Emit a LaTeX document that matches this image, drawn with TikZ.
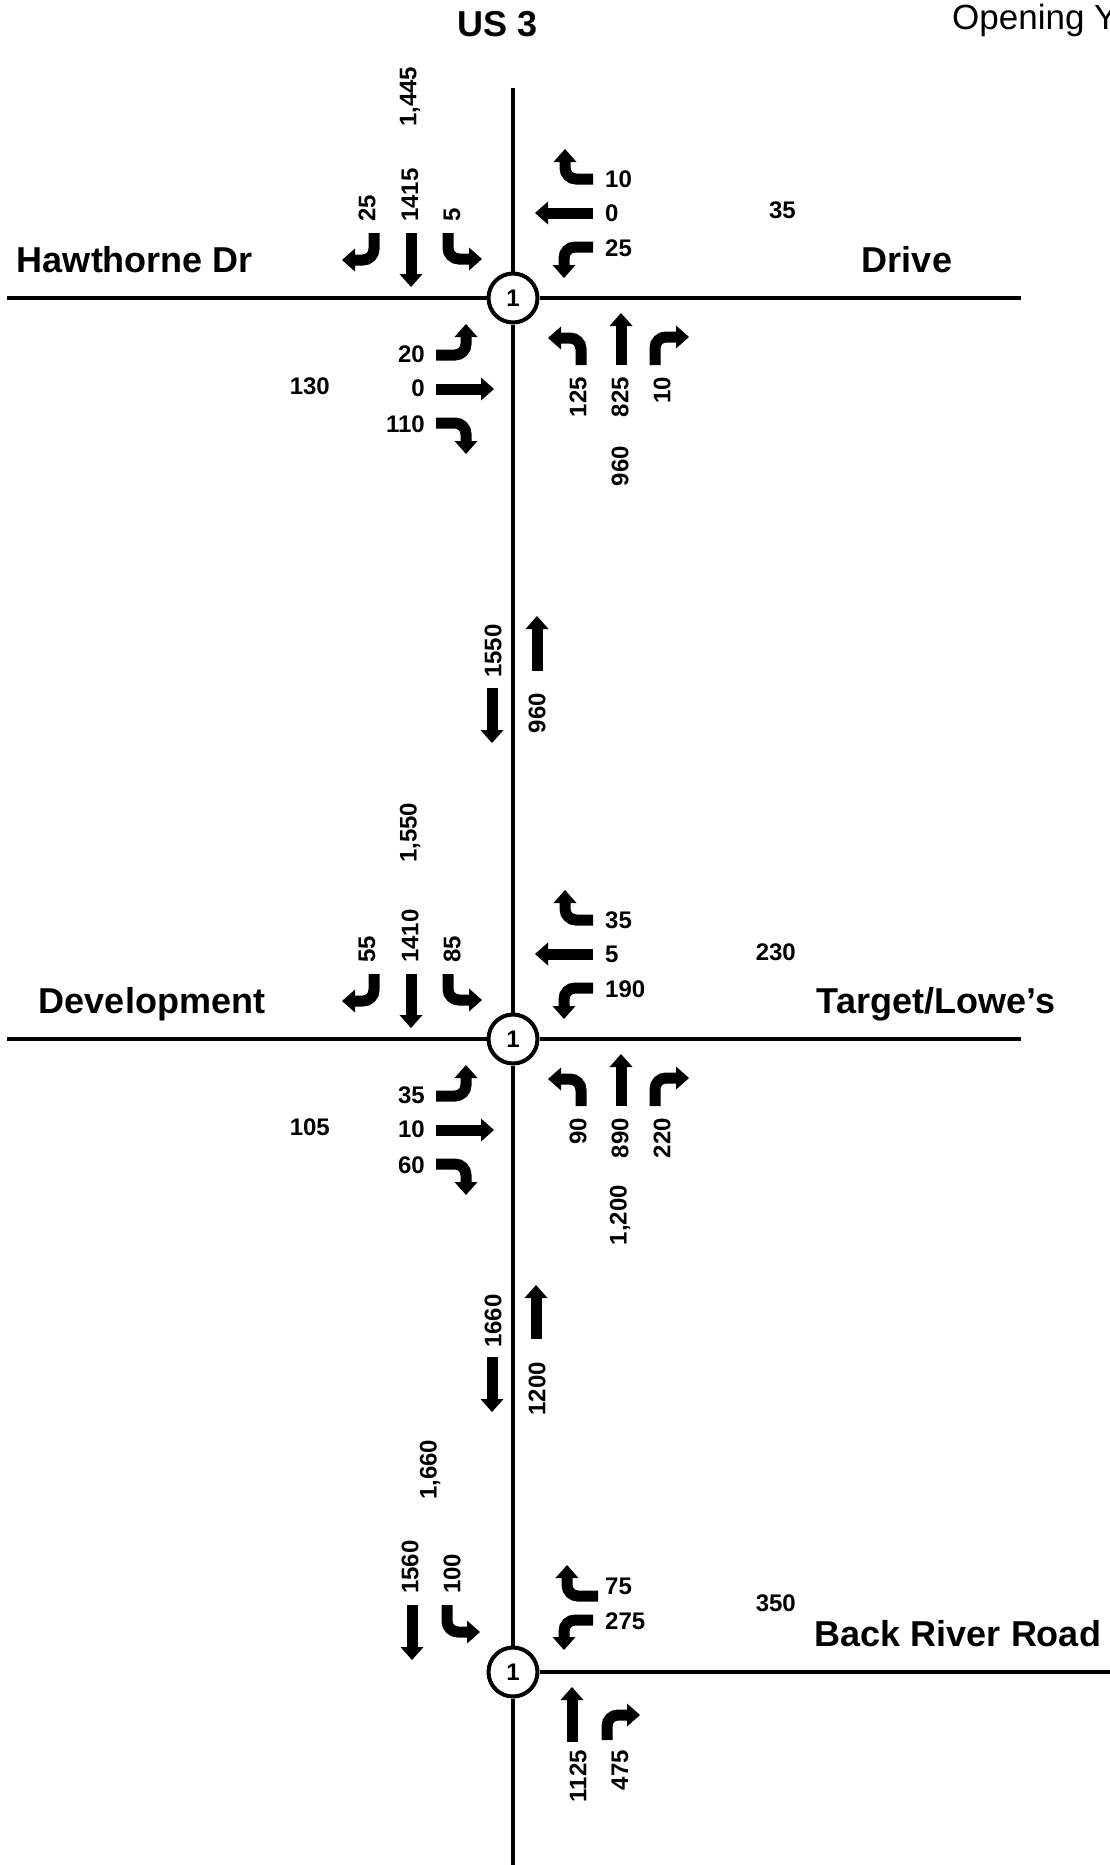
\documentclass[tikz,border=0pt]{standalone}
\usepackage{fontspec}
\setmainfont{Liberation Sans}
\usetikzlibrary{arrows.meta}
\tikzset{
 road/.style={line width=4.5pt},
 mv/.style={line width=11pt, rounded corners=11pt, -{Triangle[width=23pt,length=13pt,line width=0pt]}},
 num/.style={font=\fontsize{24}{24}\selectfont\bfseries, inner sep=0pt},
 vup/.style={num, rotate=90, anchor=west},
 vdn/.style={num, rotate=90, anchor=east},
 numr/.style={num, anchor=east},
 numl/.style={num, anchor=west},
 rname/.style={font=\fontsize{36}{36}\selectfont\bfseries, inner sep=0pt, anchor=base},
 sig/.style={circle, draw, line width=4pt, fill=white, minimum size=49pt, inner sep=0pt, font=\fontsize{24}{24}\selectfont\bfseries},
}
\begin{document}
\begin{tikzpicture}[x=1pt,y=-1pt]
\path[use as bounding box] (0,0) rectangle (1110,1865);
\clip (0,0) rectangle (1110,1865);
% signals
\node[sig] (c1) at (513,298) {1};
\node[sig] (c2) at (513,1039) {1};
\node[sig] (c3) at (513,1672) {1};
\coordinate (vtop) at (513,88);
\coordinate (vbot) at (513,1870);
\coordinate (h1w) at (7,298);
\coordinate (h1e) at (1021,298);
\coordinate (h2w) at (7,1039);
\coordinate (h2e) at (1021,1039);
\coordinate (h3e) at (1115,1672);
\draw[road] (vtop) -- (c1);
\draw[road] (c1) -- (c2);
\draw[road] (c2) -- (c3);
\draw[road] (c3) -- (vbot);
\draw[road] (h1w) -- (c1);
\draw[road] (c1) -- (h1e);
\draw[road] (h2w) -- (c2);
\draw[road] (c2) -- (h2e);
\draw[road] (c3) -- (h3e);
% titles and road names
\node[font=\fontsize{35}{35}\selectfont, inner sep=0pt, anchor=base west] (oy) at (952,30) {Opening Y};
\node[rname] (us3) at (498,37) {US 3};
\node[rname] (hw) at (135,272) {Hawthorne Dr};
\node[rname] (dr) at (907,272) {Drive};
\node[rname] (dev) at (152,1013) {Development};
\node[rname] (tl) at (936,1013) {Target/Lowe\symbol{39}s};
\node[rname] (brr) at (958,1646) {Back River Road};
% ---------------- intersection 1
\begin{scope}[shift={(513,298)}]
\node[vup] (a1stot) at (-103,-171) {1,445};
\node[vup] (a1sr) at (-146,-76) {25};
\node[vup] (a1st) at (-103,-76) {1415};
\node[vup] (a1sl) at (-61,-76) {5};
\draw[mv] (-139,-65) |- (-171,-38);
\draw[mv] (-102,-65) -- (-102,-11);
\draw[mv] (-65,-65) |- (-31,-39);
\draw[mv] (80,-119) -| (52,-149);
\draw[mv] (80,-85) -- (22,-85);
\draw[mv] (80,-51) -| (51,-20);
\node[numl] (a1wr) at (92,-119) {10};
\node[numl] (a1wt) at (92,-85) {0};
\node[numl] (a1wl) at (92,-50) {25};
\node[numr] (a1wtot) at (283,-88) {35};
\draw[mv] (-77,57) -| (-47,26);
\draw[mv] (-77,91) -- (-19,91);
\draw[mv] (-77,125) -| (-47,156);
\node[numr] (a1el) at (-88,56) {20};
\node[numr] (a1et) at (-88,90) {0};
\node[numr] (a1er) at (-88,126) {110};
\node[numr] (a1etot) at (-183,88) {130};
\draw[mv] (68,67) |- (35,40);
\draw[mv] (108,67) -- (108,15);
\draw[mv] (142,67) |- (176,39);
\node[vdn] (a1nl) at (65,79) {125};
\node[vdn] (a1nt) at (107,79) {825};
\node[vdn] (a1nr) at (149,79) {10};
\node[vdn] (a1ntot) at (107,148) {960};
\end{scope}
% corridor 1
\node[vup] (k1s) at (493,678) {1550};
\draw[mv] (492,688) -- (492,743);
\draw[mv] (537,671) -- (537,616);
\node[vdn] (k1n) at (537,693) {960};
% ---------------- intersection 2
\begin{scope}[shift={(513,1039)}]
\node[vup] (a2stot) at (-103,-176) {1,550};
\node[vup] (a2sr) at (-146,-76) {55};
\node[vup] (a2st) at (-103,-76) {1410};
\node[vup] (a2sl) at (-61,-76) {85};
\draw[mv] (-139,-65) |- (-171,-38);
\draw[mv] (-102,-65) -- (-102,-11);
\draw[mv] (-65,-65) |- (-31,-39);
\draw[mv] (80,-119) -| (52,-149);
\draw[mv] (80,-85) -- (22,-85);
\draw[mv] (80,-51) -| (51,-20);
\node[numl] (a2wr) at (92,-119) {35};
\node[numl] (a2wt) at (92,-85) {5};
\node[numl] (a2wl) at (92,-50) {190};
\node[numr] (a2wtot) at (283,-87) {230};
\draw[mv] (-77,57) -| (-47,26);
\draw[mv] (-77,91) -- (-19,91);
\draw[mv] (-77,125) -| (-47,156);
\node[numr] (a2el) at (-88,56) {35};
\node[numr] (a2et) at (-88,90) {10};
\node[numr] (a2er) at (-88,126) {60};
\node[numr] (a2etot) at (-183,88) {105};
\draw[mv] (68,67) |- (35,40);
\draw[mv] (108,67) -- (108,15);
\draw[mv] (142,67) |- (176,39);
\node[vdn] (a2nl) at (65,79) {90};
\node[vdn] (a2nt) at (107,79) {890};
\node[vdn] (a2nr) at (149,79) {220};
\node[vdn] (a2ntot) at (107,146) {1,200};
\end{scope}
% corridor 2
\node[vup] (k2s) at (493,1348) {1660};
\draw[mv] (492,1357) -- (492,1412);
\draw[mv] (536,1339) -- (536,1285);
\node[vdn] (k2n) at (537,1362) {1200};
% ---------------- intersection 3
\begin{scope}[shift={(513,1672)}]
\node[vup] (a3stot) at (-83,-172) {1,660};
\node[vup] (a3st) at (-103,-78) {1560};
\node[vup] (a3sl) at (-61,-78) {100};
\draw[mv] (-101,-67) -- (-101,-12);
\draw[mv] (-66,-67) |- (-33,-40);
\draw[mv] (85,-76) -| (54,-107);
\draw[mv] (80,-52) -| (51,-22);
\node[numl] (a3wr) at (92,-86) {75};
\node[numl] (a3wl) at (92,-51) {275};
\node[numr] (a3wtot) at (283,-69) {350};
\draw[mv] (59,70) -- (59,15);
\draw[mv] (94,68) |- (127,43);
\node[vdn] (a3nt) at (65,78) {1125};
\node[vdn] (a3nr) at (107,78) {475};
\end{scope}
\end{tikzpicture}
\end{document}
